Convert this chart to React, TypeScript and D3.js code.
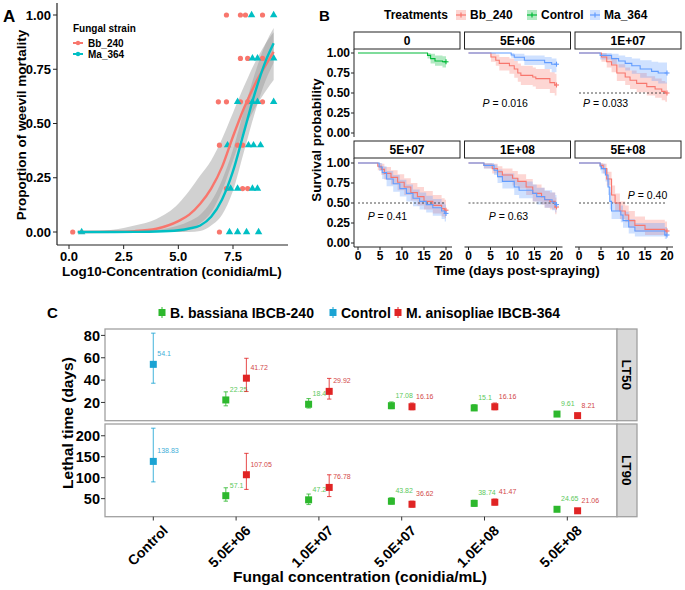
import React from "react";
import * as d3 from "d3";

const FONT = "'Liberation Sans', Arial, Helvetica, sans-serif";

// ================= Panel A data =================
const strainLabels = ["Bb_240", "Ma_364"];
const strainColors = ["#F8766D", "#00BFC4"];
const bbPointX = [7.2, 7.84, 8.07, 8.85, 7.84, 8.17, 8.85, 6.83, 7.2, 7.84, 8.17, 8.85, 6.88, 7.71, 7.94, 7.2, 7.94, 8.17, 0.17, 6.88];
const bbPointY = [1, 1, 1, 1, 0.8, 0.8, 0.8, 0.6, 0.6, 0.6, 0.6, 0.6, 0.4, 0.4, 0.4, 0.2, 0.2, 0.2, 0, 0];
const maPointX = [8.35, 9.36, 8.39, 8.62, 9.36, 7.71, 8.39, 8.62, 9.36, 7.25, 8.21, 8.44, 8.76, 7.39, 7.71, 8.39, 8.62, 0.58, 7.34, 7.71, 8.12, 8.67];
const maPointY = [1, 1, 0.8, 0.8, 0.8, 0.6, 0.6, 0.6, 0.6, 0.4, 0.4, 0.4, 0.4, 0.2, 0.2, 0.2, 0.2, 0, 0, 0, 0, 0];
const curveX = [0.4, 2, 3, 4, 5, 5.5, 6, 6.5, 7, 7.5, 8, 8.5, 9, 9.36];
const bbFit = [0.0, 0.001, 0.004, 0.015, 0.05, 0.08, 0.13, 0.2, 0.3, 0.44, 0.57, 0.68, 0.77, 0.83];
const bbFitLo = [0, 0, 0, 0, 0.0, 0.01, 0.04, 0.09, 0.19, 0.33, 0.47, 0.57, 0.65, 0.7];
const bbFitHi = [0, 0.01, 0.03, 0.06, 0.13, 0.19, 0.26, 0.33, 0.43, 0.55, 0.67, 0.78, 0.87, 0.92];
const maFit = [0, 0, 0.0005, 0.002, 0.008, 0.016, 0.03, 0.07, 0.15, 0.28, 0.46, 0.64, 0.79, 0.87];
const maFitLo = [0, 0, 0, 0, 0, 0, 0.005, 0.03, 0.08, 0.19, 0.37, 0.55, 0.7, 0.78];
const maFitHi = [0, 0.003, 0.005, 0.01, 0.03, 0.05, 0.08, 0.14, 0.24, 0.38, 0.56, 0.73, 0.87, 0.94];
const aTicksX = [0, 2.5, 5, 7.5];
const aTicksY = [0, 0.25, 0.5, 0.75, 1];

// ================= Panel B data =================
const treatmentLabels = ["Bb_240", "Control", "Ma_364"];
const treatmentColors = ["#F8766D", "#00BA38", "#619CFF"];
const facetLabels = ["0", "5E+06", "1E+07", "5E+07", "1E+08", "5E+08"];
// rows: [time, survival, lower, upper]
const ctrl0 = [[0, 1, 1, 1], [15.8, 0.97, 0.93, 1], [16.5, 0.93, 0.87, 0.99], [17.5, 0.9, 0.84, 0.97], [19.2, 0.89, 0.82, 0.96]];
const bb5e6 = [[0, 1, 1, 1], [5.1, 0.95, 0.89, 1], [6.2, 0.91, 0.84, 0.98], [7, 0.87, 0.78, 0.95], [9.3, 0.84, 0.74, 0.93], [10.4, 0.8, 0.69, 0.9], [11.2, 0.75, 0.64, 0.87], [11.9, 0.72, 0.6, 0.84], [14.6, 0.7, 0.58, 0.82], [15.3, 0.68, 0.55, 0.8], [18.5, 0.63, 0.5, 0.76], [19.6, 0.6, 0.47, 0.74]];
const ma5e6 = [[0, 1, 1, 1], [9.7, 0.975, 0.94, 1], [10.4, 0.946, 0.9, 0.99], [12.7, 0.91, 0.85, 0.97], [17.3, 0.88, 0.8, 0.95], [18.9, 0.86, 0.76, 0.93]];
const bb1e7 = [[0, 1, 1, 1], [5.1, 0.95, 0.89, 1], [6.3, 0.89, 0.82, 0.97], [7.4, 0.85, 0.76, 0.94], [8.6, 0.75, 0.65, 0.86], [10.5, 0.7, 0.6, 0.82], [11.6, 0.66, 0.55, 0.78], [13.1, 0.62, 0.51, 0.75], [15.4, 0.58, 0.47, 0.71], [17.3, 0.55, 0.44, 0.68], [18.8, 0.52, 0.41, 0.65], [19.6, 0.5, 0.39, 0.63]];
const ma1e7 = [[0, 1, 1, 1], [4.8, 0.97, 0.92, 1], [7.4, 0.93, 0.86, 0.99], [9, 0.9, 0.82, 0.97], [10.5, 0.87, 0.78, 0.95], [12, 0.84, 0.74, 0.93], [13.9, 0.8, 0.69, 0.91], [16.5, 0.77, 0.65, 0.89], [18, 0.75, 0.62, 0.88]];
const bb5e7 = [[0, 1, 1, 1], [4.5, 0.96, 0.91, 1], [5.3, 0.92, 0.85, 0.99], [6, 0.87, 0.79, 0.95], [7.5, 0.82, 0.73, 0.91], [9, 0.76, 0.66, 0.86], [10.5, 0.7, 0.6, 0.81], [12, 0.63, 0.53, 0.75], [13.5, 0.58, 0.47, 0.7], [15, 0.52, 0.42, 0.65], [17, 0.47, 0.37, 0.6], [19, 0.43, 0.33, 0.56], [19.7, 0.41, 0.31, 0.54]];
const ma5e7 = [[0, 1, 1, 1], [4.8, 0.95, 0.9, 1], [5.5, 0.88, 0.8, 0.96], [6.5, 0.8, 0.71, 0.9], [8, 0.74, 0.64, 0.85], [9.5, 0.68, 0.58, 0.79], [11, 0.62, 0.52, 0.73], [12.5, 0.56, 0.46, 0.67], [14, 0.52, 0.42, 0.63], [15.5, 0.48, 0.38, 0.59], [17, 0.44, 0.34, 0.55], [19, 0.4, 0.3, 0.51], [19.7, 0.37, 0.27, 0.48]];
const bb1e8 = [[0, 1, 1, 1], [3.5, 0.97, 0.93, 1], [5.4, 0.93, 0.87, 0.99], [6.6, 0.89, 0.82, 0.96], [7.7, 0.85, 0.77, 0.93], [10, 0.81, 0.72, 0.9], [11.2, 0.77, 0.68, 0.86], [13.1, 0.7, 0.6, 0.8], [14.6, 0.62, 0.52, 0.73], [16.6, 0.58, 0.48, 0.69], [17.3, 0.54, 0.44, 0.65], [18.5, 0.52, 0.42, 0.63], [19.7, 0.45, 0.36, 0.57]];
const ma1e8 = [[0, 1, 1, 1], [3.5, 0.97, 0.93, 1], [5.8, 0.91, 0.85, 0.98], [6.6, 0.83, 0.75, 0.92], [7.7, 0.77, 0.68, 0.87], [10.4, 0.7, 0.6, 0.81], [11.5, 0.66, 0.56, 0.77], [14.6, 0.62, 0.52, 0.73], [15.5, 0.58, 0.48, 0.69], [17.3, 0.54, 0.44, 0.66], [19, 0.51, 0.41, 0.63], [19.7, 0.48, 0.38, 0.6]];
const bb5e8 = [[0, 1, 1, 1], [4.8, 0.97, 0.93, 1], [5.5, 0.93, 0.87, 0.99], [6.3, 0.8, 0.72, 0.89], [7.4, 0.6, 0.5, 0.72], [8.2, 0.5, 0.4, 0.62], [9.3, 0.4, 0.3, 0.52], [10.5, 0.35, 0.26, 0.47], [11.3, 0.28, 0.19, 0.4], [12.7, 0.22, 0.14, 0.33], [15, 0.17, 0.1, 0.29], [19.5, 0.15, 0.08, 0.27]];
const ma5e8 = [[0, 1, 1, 1], [4.8, 0.96, 0.91, 1], [5.1, 0.93, 0.87, 0.99], [6, 0.85, 0.77, 0.93], [6.6, 0.7, 0.6, 0.81], [7, 0.52, 0.42, 0.63], [7.4, 0.4, 0.3, 0.51], [9.5, 0.35, 0.26, 0.47], [10, 0.28, 0.19, 0.39], [11.3, 0.2, 0.12, 0.3], [12.7, 0.15, 0.08, 0.25], [19.5, 0.1, 0.05, 0.2]];
const pValues = ["", "0.016", "0.033", "0.41", "0.63", "0.40"];
const showMedianLine = [false, false, true, true, true, true];
const bTicksX = [0, 5, 10, 15, 20];
const bTicksY = [0, 0.25, 0.5, 0.75, 1];

// ================= Panel C data =================
const ltCategories = ["Control", "5.0E+06", "1.0E+07", "5.0E+07", "1.0E+08", "5.0E+08"];
const ltGroupLabels = ["B. bassiana IBCB-240", "Control", "M. anisopliae IBCB-364"];
const ltColors = ["#2DB82D", "#1AA3D3", "#E02424"];
const ltTextColors = ["#5CC95C", "#3FAED8", "#D24848"];
const ctrlLT50 = [54.1, 37.2, 82];
const bbLT50 = [22.25, 18.4, 17.08, 15.1, 9.61];
const bbLT50Lo = [17, 15, 14.5, 12.8, 8.8];
const bbLT50Hi = [29.5, 23.5, 20.5, 18, 10.6];
const maLT50 = [41.72, 29.92, 16.16, 16.16, 8.21];
const maLT50Lo = [29.8, 23, 13.5, 13.5, 7.4];
const maLT50Hi = [59.5, 41.5, 19.5, 19.5, 9.1];
const ctrlLT90 = [138.83, 90, 218];
const bbLT90 = [57.1, 47.2, 43.82, 38.74, 24.65];
const bbLT90Lo = [44, 36, 37, 32, 22.5];
const bbLT90Hi = [76, 61, 52, 46, 27];
const maLT90 = [107.05, 76.78, 36.62, 41.47, 21.06];
const maLT90Lo = [72, 55, 30, 35, 17];
const maLT90Hi = [158, 107, 44, 49, 23.5];
const lt50Ticks = [20, 40, 60, 80];
const lt90Ticks = [50, 100, 150, 200];

// ================= Panel A =================
function PanelA() {
  const x = d3.scaleLinear().domain([0, 7.5]).range([69, 233]);
  const y = d3.scaleLinear().domain([0, 1]).range([232, 15]);
  const band = (lo: number[], hi: number[]) =>
    d3.area<number>().x((d) => x(d)).y0((_, i) => y(lo[i])).y1((_, i) => y(hi[i])).curve(d3.curveMonotoneX)(curveX) || "";
  const line = (p: number[]) =>
    d3.line<number>().x((d) => x(d)).y((_, i) => y(p[i])).curve(d3.curveMonotoneX)(curveX) || "";
  const tri = d3.symbol().type(d3.symbolTriangle).size(24)() || "";
  const axisColor = "#222";
  return (
    <g>
      <text x={3} y={22} fontSize={17} fontWeight="bold">A</text>
      <path d={band(bbFitLo, bbFitHi)} fill="#9a9a9a" fillOpacity={0.45} />
      <path d={band(maFitLo, maFitHi)} fill="#9a9a9a" fillOpacity={0.45} />
      {bbPointX.map((px, i) => (
        <circle key={"b" + i} cx={x(px)} cy={y(bbPointY[i])} r={2.6} fill={strainColors[0]} />
      ))}
      {maPointX.map((px, i) => (
        <path key={"m" + i} d={tri} transform={`translate(${x(px)},${y(maPointY[i])})`} fill={strainColors[1]} />
      ))}
      <path d={line(bbFit)} fill="none" stroke={strainColors[0]} strokeWidth={2.4} />
      <path d={line(maFit)} fill="none" stroke={strainColors[1]} strokeWidth={2.4} />
      {/* axes */}
      <line x1={57} x2={57} y1={3} y2={245} stroke={axisColor} strokeWidth={1.2} />
      <line x1={57} x2={288} y1={245} y2={245} stroke={axisColor} strokeWidth={1.2} />
      {aTicksY.map((t) => (
        <g key={t}>
          <line x1={53} x2={57} y1={y(t)} y2={y(t)} stroke={axisColor} />
          <text x={51} y={y(t)} dy="0.36em" textAnchor="end" fontSize={13} fontWeight="bold">{t.toFixed(2)}</text>
        </g>
      ))}
      {aTicksX.map((t) => (
        <g key={t}>
          <line x1={x(t)} x2={x(t)} y1={245} y2={249} stroke={axisColor} />
          <text x={x(t)} y={261} textAnchor="middle" fontSize={13} fontWeight="bold">{t.toFixed(1)}</text>
        </g>
      ))}
      <text x={172} y={276} textAnchor="middle" fontSize={13.5} fontWeight="bold">Log10-Concentration (conidia/mL)</text>
      <text transform="translate(26,125) rotate(-90)" textAnchor="middle" fontSize={13.5} fontWeight="bold">Proportion of weevil mortality</text>
      {/* legend */}
      <text x={73} y={32} fontSize={10} fontWeight="bold">Fungal strain</text>
      {strainLabels.map((s, i) => (
        <g key={s}>
          <line x1={73} x2={83} y1={43 + i * 11} y2={43 + i * 11} stroke={strainColors[i]} strokeWidth={2} />
          <circle cx={78} cy={43 + i * 11} r={2.2} fill={strainColors[i]} />
          <text x={88} y={43 + i * 11} dy="0.35em" fontSize={10} fontWeight="bold">{s}</text>
        </g>
      ))}
    </g>
  );
}

// ================= Panel B =================
const facetCurves: { g: number; rows: number[][] }[][] = [
  [{ g: 1, rows: ctrl0 }],
  [{ g: 0, rows: bb5e6 }, { g: 2, rows: ma5e6 }],
  [{ g: 0, rows: bb1e7 }, { g: 2, rows: ma1e7 }],
  [{ g: 0, rows: bb5e7 }, { g: 2, rows: ma5e7 }],
  [{ g: 0, rows: bb1e8 }, { g: 2, rows: ma1e8 }],
  [{ g: 0, rows: bb5e8 }, { g: 2, rows: ma5e8 }],
];
const pLabelPos = [[0, 0], [3.2, 0.375], [0.9, 0.375], [2.2, 0.34], [4.6, 0.34], [11.1, 0.6]];

function PanelB() {
  const colLeft = [354, 464.5, 575];
  const PW = 106;
  const stripTop = [32, 141];
  const STRIP_H = 17;
  const yTop = [53, 163];
  const yBot = [133, 243];
  const END_T = 20;
  const axisColor = "#222";
  return (
    <g>
      <text x={319} y={21} fontSize={15} fontWeight="bold">B</text>
      {/* legend */}
      <text x={384} y={15} dy="0.36em" fontSize={12} fontWeight="bold">Treatments</text>
      {treatmentLabels.map((t, i) => {
        const kx = [456, 527, 590][i];
        return (
          <g key={t}>
            <rect x={kx} y={10} width={10} height={10} fill={treatmentColors[i]} fillOpacity={0.3} />
            <line x1={kx} x2={kx + 10} y1={15} y2={15} stroke={treatmentColors[i]} strokeWidth={1.2} />
            <line x1={kx + 5} x2={kx + 5} y1={12.5} y2={17.5} stroke={treatmentColors[i]} strokeWidth={1.2} />
            <text x={kx + 14} y={15} dy="0.36em" fontSize={12} fontWeight="bold">{t}</text>
          </g>
        );
      })}
      {facetLabels.map((lab, fi) => {
        const col = fi % 3;
        const row = Math.floor(fi / 3);
        const left = colLeft[col];
        const xs = d3.scaleLinear().domain([0, 20]).range([left + 4, left + 92]);
        const ys = d3.scaleLinear().domain([0, 1]).range([yBot[row], yTop[row]]);
        const curves = facetCurves[fi];
        const withEnd = (rows: number[][]) => [...rows, [END_T, ...rows[rows.length - 1].slice(1)]];
        const area = d3
          .area<number[]>()
          .x((d) => xs(d[0]))
          .y0((d) => ys(d[2]))
          .y1((d) => ys(d[3]))
          .curve(d3.curveStepAfter);
        const ln = d3
          .line<number[]>()
          .x((d) => xs(d[0]))
          .y((d) => ys(d[1]))
          .curve(d3.curveStepAfter);
        return (
          <g key={lab}>
            <rect x={left} y={stripTop[row]} width={PW} height={STRIP_H} fill="#fff" stroke="#222" strokeWidth={1} />
            <text x={left + PW / 2} y={stripTop[row] + STRIP_H / 2} dy="0.36em" textAnchor="middle" fontSize={12} fontWeight="bold">{lab}</text>
            {curves.map((c) => (
              <path key={"a" + c.g} d={area(withEnd(c.rows)) || ""} fill={treatmentColors[c.g]} fillOpacity={0.3} />
            ))}
            {showMedianLine[fi] && (
              <line x1={xs(0)} x2={xs(19.6)} y1={ys(0.5)} y2={ys(0.5)} stroke="#222" strokeWidth={0.8} strokeDasharray="2,2" />
            )}
            {curves.map((c) => {
              const pts = withEnd(c.rows);
              const last = pts[pts.length - 1];
              return (
                <g key={"l" + c.g}>
                  <path d={ln(pts) || ""} fill="none" stroke={treatmentColors[c.g]} strokeWidth={1.1} />
                  <line x1={xs(last[0]) - 2.5} x2={xs(last[0]) + 2.5} y1={ys(last[1])} y2={ys(last[1])} stroke={treatmentColors[c.g]} strokeWidth={1.1} />
                  <line x1={xs(last[0])} x2={xs(last[0])} y1={ys(last[1]) - 2.5} y2={ys(last[1]) + 2.5} stroke={treatmentColors[c.g]} strokeWidth={1.1} />
                </g>
              );
            })}
            {pValues[fi] && (
              <text x={xs(pLabelPos[fi][0])} y={ys(pLabelPos[fi][1])} dy="0.36em" fontSize={10.5}>
                <tspan fontStyle="italic">P</tspan> = {pValues[fi]}
              </text>
            )}
            {col === 0 && (
              <g>
                <line x1={left} x2={left} y1={stripTop[row] + STRIP_H} y2={yBot[row] + 4} stroke={axisColor} strokeWidth={1} />
                {bTicksY.map((t) => (
                  <g key={t}>
                    <line x1={left - 3} x2={left} y1={ys(t)} y2={ys(t)} stroke={axisColor} />
                    <text x={left - 4} y={ys(t)} dy="0.36em" textAnchor="end" fontSize={12} fontWeight="bold">{t.toFixed(2)}</text>
                  </g>
                ))}
              </g>
            )}
            {row === 1 && (
              <g>
                <line x1={left} x2={left + PW - 8} y1={yBot[row] + 4} y2={yBot[row] + 4} stroke={axisColor} strokeWidth={1} />
                {bTicksX.map((t) => (
                  <g key={t}>
                    <line x1={xs(t)} x2={xs(t)} y1={yBot[row] + 4} y2={yBot[row] + 7} stroke={axisColor} />
                    <text x={xs(t)} y={yBot[row] + 17} textAnchor="middle" fontSize={12} fontWeight="bold">{t}</text>
                  </g>
                ))}
              </g>
            )}
          </g>
        );
      })}
      <text x={517} y={275} textAnchor="middle" fontSize={13.3} fontWeight="bold">Time (days post-spraying)</text>
      <text transform="translate(321,140) rotate(-90)" textAnchor="middle" fontSize={13.3} fontWeight="bold">Survival probability</text>
    </g>
  );
}

// ================= Panel C =================
function PanelC() {
  const x = d3.scalePoint<string>().domain(ltCategories).range([153.3, 567.3]);
  const LEFT = 105;
  const RIGHT = 617;
  const STRIP_W = 20;
  const DODGE = 10.3;
  const panels = [
    { top: 329, bottom: 420.7, ticks: lt50Ticks, label: "LT50", ctrl: ctrlLT50, bb: [bbLT50, bbLT50Lo, bbLT50Hi], ma: [maLT50, maLT50Lo, maLT50Hi] },
    { top: 424, bottom: 516.7, ticks: lt90Ticks, label: "LT90", ctrl: ctrlLT90, bb: [bbLT90, bbLT90Lo, bbLT90Hi], ma: [maLT90, maLT90Lo, maLT90Hi] },
  ];
  const sq = 7;
  const point = (cx: number, v: number, lo: number, hi: number, ci: number, ys: d3.ScaleLinear<number, number>, key: string) => (
    <g key={key}>
      <line x1={cx} x2={cx} y1={ys(lo)} y2={ys(hi)} stroke={ltColors[ci]} strokeOpacity={0.75} strokeWidth={1.1} />
      <line x1={cx - 2.2} x2={cx + 2.2} y1={ys(lo)} y2={ys(lo)} stroke={ltColors[ci]} strokeOpacity={0.75} strokeWidth={1.1} />
      <line x1={cx - 2.2} x2={cx + 2.2} y1={ys(hi)} y2={ys(hi)} stroke={ltColors[ci]} strokeOpacity={0.75} strokeWidth={1.1} />
      <rect x={cx - sq / 2} y={ys(v) - sq / 2} width={sq} height={sq} fill={ltColors[ci]} />
      <text x={cx + 4} y={ys(v) - 8} fontSize={7} fill={ltTextColors[ci]}>{String(v)}</text>
    </g>
  );
  return (
    <g>
      <text x={47} y={318} fontSize={15} fontWeight="bold">C</text>
      {/* legend */}
      {ltGroupLabels.map((g, i) => {
        const kx = [162, 333, 398][i];
        return (
          <g key={g}>
            <line x1={kx} x2={kx} y1={307} y2={318} stroke={ltColors[i]} strokeWidth={1} />
            <rect x={kx - 3.5} y={309} width={7} height={7} fill={ltColors[i]} />
            <text x={kx + 8} y={312.5} dy="0.36em" fontSize={14} fontWeight="bold">{g}</text>
          </g>
        );
      })}
      {panels.map((p) => {
        const all = [p.ctrl[1], p.ctrl[2], ...p.bb[1], ...p.bb[2], ...p.ma[1], ...p.ma[2]];
        const mn = d3.min(all) as number;
        const mx = d3.max(all) as number;
        const pad = (mx - mn) * 0.05;
        const ys = d3.scaleLinear().domain([mn - pad, mx + pad]).range([p.bottom, p.top]);
        return (
          <g key={p.label}>
            <rect x={LEFT} y={p.top} width={RIGHT - LEFT} height={p.bottom - p.top} fill="#fff" stroke="#a0a0a0" strokeWidth={1.3} />
            <rect x={RIGHT} y={p.top} width={STRIP_W} height={p.bottom - p.top} fill="#d9d9d9" stroke="#a0a0a0" strokeWidth={1.3} />
            <text transform={`translate(${RIGHT + STRIP_W / 2},${(p.top + p.bottom) / 2}) rotate(90)`} dy="0.36em" textAnchor="middle" fontSize={13.5} fontWeight="bold">{p.label}</text>
            {p.ticks.map((t) => (
              <g key={t}>
                <line x1={LEFT - 4} x2={LEFT} y1={ys(t)} y2={ys(t)} stroke="#333" />
                <text x={LEFT - 5} y={ys(t)} dy="0.36em" textAnchor="end" fontSize={14.5} fontWeight="bold">{t}</text>
              </g>
            ))}
            {point(x(ltCategories[0]) as number, p.ctrl[0], p.ctrl[1], p.ctrl[2], 1, ys, "c")}
            {ltCategories.slice(1).map((c, i) => (
              <g key={c}>
                {point((x(c) as number) - DODGE, p.bb[0][i], p.bb[1][i], p.bb[2][i], 0, ys, "b" + i)}
                {point((x(c) as number) + DODGE, p.ma[0][i], p.ma[1][i], p.ma[2][i], 2, ys, "m" + i)}
              </g>
            ))}
          </g>
        );
      })}
      {ltCategories.map((c) => (
        <g key={c}>
          <line x1={x(c) as number} x2={x(c) as number} y1={516.7} y2={520.5} stroke="#333" />
          <text transform={`translate(${(x(c) as number) + 8},${524}) rotate(-45)`} dy="0.75em" textAnchor="end" fontSize={14} fontWeight="bold">{c}</text>
        </g>
      ))}
      <text x={360} y={582} textAnchor="middle" fontSize={15.5} fontWeight="bold">Fungal concentration (conidia/mL)</text>
      <text transform="translate(73,423) rotate(-90)" textAnchor="middle" fontSize={15.5} fontWeight="bold">Lethal time (days)</text>
    </g>
  );
}

export default function App() {
  return (
    <svg width={685} height={590} style={{ position: "absolute", left: 0, top: 0 }} fontFamily={FONT}>
      <rect width={685} height={590} fill="#fff" />
      <PanelA />
      <PanelB />
      <PanelC />
    </svg>
  );
}
